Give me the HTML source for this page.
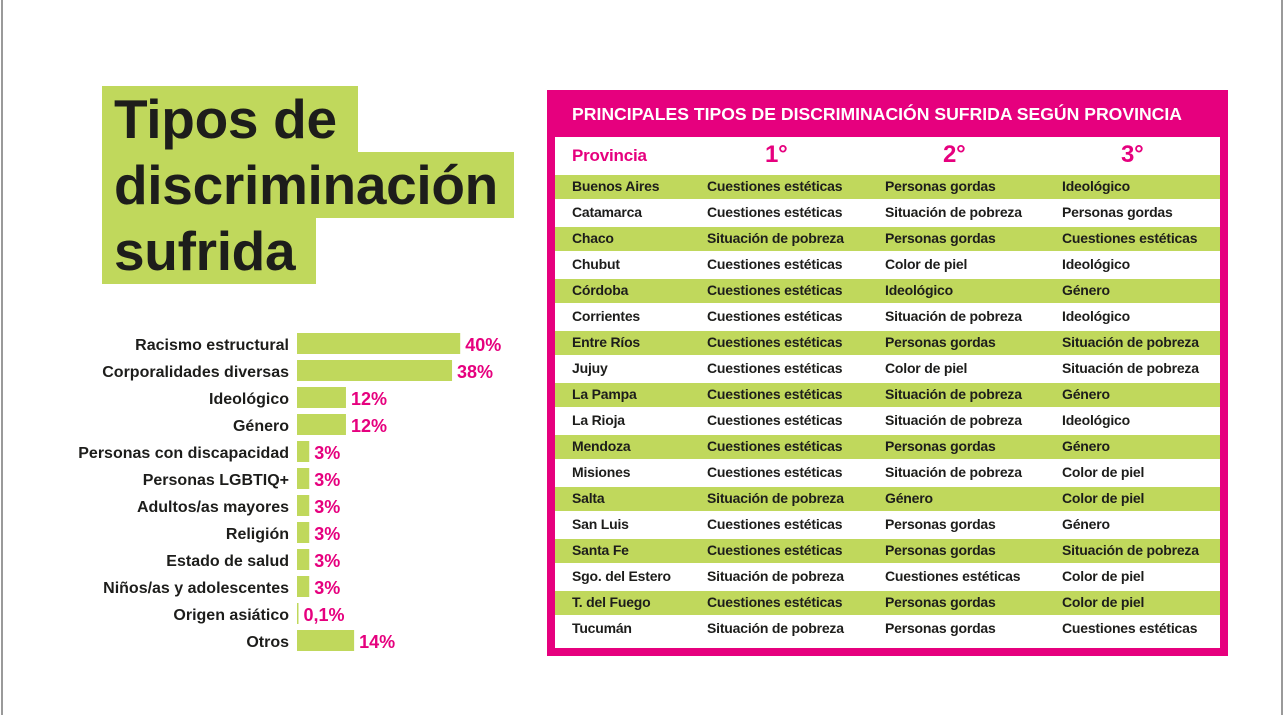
<!DOCTYPE html>
<html><head><meta charset="utf-8">
<style>
body{margin:0;width:1284px;height:715px;background:#fff;position:relative;overflow:hidden;font-family:"Liberation Sans",sans-serif;}
.edge{position:absolute;top:0;width:2px;height:715px;background:#9a9a9a;}
.tblock{position:absolute;left:102px;background:#c0d85c;}
.ttext{position:absolute;left:114px;font-weight:bold;font-size:55px;color:#1d1d1b;line-height:66px;letter-spacing:-0.3px;white-space:nowrap;}
#table{position:absolute;left:547px;top:90px;width:681px;height:566px;background:#e6007e;}
#inner{position:absolute;left:8px;top:47px;width:665px;height:511px;background:#fff;}
.cell{position:absolute;font-family:"Liberation Sans Narrow","Liberation Sans",sans-serif;font-size:14px;font-weight:bold;color:#1d1d1b;white-space:nowrap;letter-spacing:-0.2px;}
</style></head><body>
<div class="edge" style="left:1px"></div>
<div class="edge" style="left:1281px"></div>

<div class="tblock" style="top:86px;width:256px;height:66px"></div>
<div class="tblock" style="top:152px;width:412px;height:66px"></div>
<div class="tblock" style="top:218px;width:214px;height:66px"></div>
<div class="ttext" style="top:86px">Tipos de</div>
<div class="ttext" style="top:152px">discriminación</div>
<div class="ttext" style="top:218px">sufrida</div>

<svg id="chart" width="540" height="360" style="position:absolute;left:0;top:320px"></svg>

<div id="table">
  <div style="position:absolute;left:25px;top:14px;color:#fff;font-weight:bold;font-size:17.6px;letter-spacing:0px;font-family:'Liberation Sans Narrow','Liberation Sans',sans-serif;white-space:nowrap">PRINCIPALES TIPOS DE DISCRIMINACIÓN SUFRIDA SEGÚN PROVINCIA</div>
  <div id="inner"></div>
</div>

<script>
const categories=["Racismo estructural","Corporalidades diversas","Ideológico","Género","Personas con discapacidad","Personas LGBTIQ+","Adultos/as mayores","Religión","Estado de salud","Niños/as y adolescentes","Origen asiático","Otros"];
const values=[40,38,12,12,3,3,3,3,3,3,0.1,14];
const valueLabels=["40%","38%","12%","12%","3%","3%","3%","3%","3%","3%","0,1%","14%"];

const provinces=["Buenos Aires","Catamarca","Chaco","Chubut","Córdoba","Corrientes","Entre Ríos","Jujuy","La Pampa","La Rioja","Mendoza","Misiones","Salta","San Luis","Santa Fe","Sgo. del Estero","T. del Fuego","Tucumán"];
const first=["Cuestiones estéticas","Cuestiones estéticas","Situación de pobreza","Cuestiones estéticas","Cuestiones estéticas","Cuestiones estéticas","Cuestiones estéticas","Cuestiones estéticas","Cuestiones estéticas","Cuestiones estéticas","Cuestiones estéticas","Cuestiones estéticas","Situación de pobreza","Cuestiones estéticas","Cuestiones estéticas","Situación de pobreza","Cuestiones estéticas","Situación de pobreza"];
const second=["Personas gordas","Situación de pobreza","Personas gordas","Color de piel","Ideológico","Situación de pobreza","Personas gordas","Color de piel","Situación de pobreza","Situación de pobreza","Personas gordas","Situación de pobreza","Género","Personas gordas","Personas gordas","Cuestiones estéticas","Personas gordas","Personas gordas"];
const third=["Ideológico","Personas gordas","Cuestiones estéticas","Ideológico","Género","Ideológico","Situación de pobreza","Situación de pobreza","Género","Ideológico","Género","Color de piel","Color de piel","Género","Situación de pobreza","Color de piel","Color de piel","Cuestiones estéticas"];

const NS="http://www.w3.org/2000/svg";
const svg=document.getElementById('chart');
const x0=297, pxPer=4.08, rowTop=13, step=27, barH=21;
const xScale=v=>v*pxPer;
const yScale=i=>rowTop+i*step;
categories.forEach((c,i)=>{
  const y=yScale(i);
  const w=Math.max(xScale(values[i]),1.5);
  const r=document.createElementNS(NS,'rect');
  r.setAttribute('x',x0);r.setAttribute('y',y);r.setAttribute('width',w);r.setAttribute('height',barH);r.setAttribute('fill','#c0d85c');
  
  
  svg.appendChild(r);
  const t=document.createElementNS(NS,'text');
  t.setAttribute('x',289);t.setAttribute('y',y+17);t.setAttribute('text-anchor','end');
  t.setAttribute('font-family','Liberation Sans, sans-serif');t.setAttribute('font-weight','bold');t.setAttribute('font-size','16');t.setAttribute('fill','#1d1d1b');
  t.textContent=c;
  
  
  svg.appendChild(t);
  const v=document.createElementNS(NS,'text');
  v.setAttribute('x',x0+w+5);v.setAttribute('y',y+18);
  v.setAttribute('font-family','Liberation Sans, sans-serif');v.setAttribute('font-weight','bold');v.setAttribute('font-size','18');v.setAttribute('fill','#e6007e');
  v.textContent=valueLabels[i];
  
  
  svg.appendChild(v);
});

const inner=document.getElementById('inner');
const colX=[17,152,330,507];
function cell(txt,x,y,style,name){
  const d=document.createElement('div');
  d.className='cell';d.textContent=txt;d.style.left=x+'px';d.style.top=y+'px';
  if(style)Object.assign(d.style,style);
  
  
  inner.appendChild(d);
}
const hs={color:'#e6007e',fontWeight:'bold',fontSize:'17px'};
cell('Provincia',colX[0],9,hs,'header-provincia');
cell('1°',210,4,{color:'#e6007e',fontWeight:'bold',fontSize:'24px'},'header-1');
cell('2°',388,4,{color:'#e6007e',fontWeight:'bold',fontSize:'24px'},'header-2');
cell('3°',566,4,{color:'#e6007e',fontWeight:'bold',fontSize:'24px'},'header-3');
provinces.forEach((p,i)=>{
  const y=38+i*26;
  if(i%2===0){
    const bg=document.createElement('div');
    bg.style.cssText='position:absolute;left:0;width:665px;height:24px;background:#c0d85c;top:'+y+'px';
    
    
    inner.appendChild(bg);
  }
  cell(p,colX[0],y+3,null,'province-name');
  cell(first[i],colX[1],y+3,null,'first-type');
  cell(second[i],colX[2],y+3,null,'second-type');
  cell(third[i],colX[3],y+3,null,'third-type');
});
</script>
</body></html>
